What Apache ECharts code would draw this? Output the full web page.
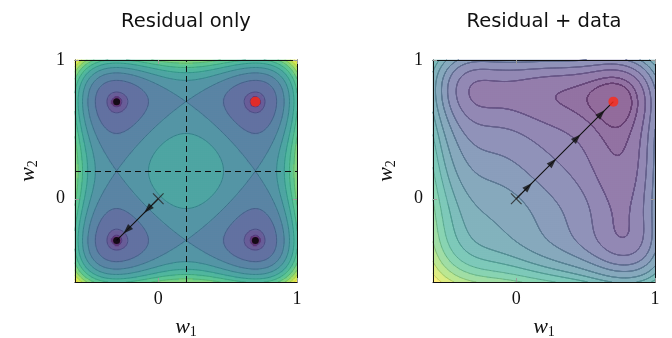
<!DOCTYPE html>
<html><head><meta charset="utf-8">
<script src="https://cdn.jsdelivr.net/npm/echarts@6.0.0/dist/echarts.min.js"></script>
<style>html,body{margin:0;padding:0;background:#fff}#c{width:672px;height:338px}</style>
</head><body><div id="c"></div>
<script>
// ---------------- data ----------------
const titles = ['Residual only', 'Residual + data'];
const axisRange = [-0.6, 1];
const tickValues = [0, 1];
const residualRoots = [-0.3, 0.7];          // each weight's residual roots -> minima
const guideLines = [0.2];                   // dashed guides (left panel)
const minimaLeft = [[-0.3, 0.7], [-0.3, -0.3], [0.7, -0.3]];
const targetMin = [[0.7, 0.7]];
const startPoint = [[0, 0]];
const pathLeft = [[0, 0], [-0.15, -0.15], [-0.3, -0.3]];
const pathRight = [[0, 0], [0.175, 0.175], [0.35, 0.35], [0.525, 0.525], [0.7, 0.7]];
// right panel: residual shape (interior flattening, outer scale low/high side) and data term
const interiorFlattenRight = [0.41, 1.5];
const outerScaleRight = [1.0, 0.8];
const dataWeight = 0.065, dataCoupling = 1.07;
const levelsLeft = [0.0013, 0.0055, 0.03125, 0.0625, 0.09375, 0.126, 0.15625, 0.1875, 0.21875, 0.25, 0.28125];
const levelsRight = [0.019, 0.036, 0.067, 0.10, 0.14, 0.18, 0.23, 0.28, 0.33, 0.39, 0.45, 0.52, 0.60, 0.69];

// ---------------- fields ----------------
function resid(w) { return (w - residualRoots[0]) * (w - residualRoots[1]); }
function fLeft(w1, w2) { const a = resid(w1), b = resid(w2); return a * a + b * b; }
function hRight(w) {
  const s = resid(w);
  if (s >= 0) return (w > residualRoots[1] ? outerScaleRight[1] : outerScaleRight[0]) * s * s;
  const x = Math.min(1, -s / 0.25);
  return s * s * (1 - (1 - interiorFlattenRight[0]) * Math.pow(x, interiorFlattenRight[1]));
}
function fRight(w1, w2) {
  const d = (targetMin[0][0] - w1) + dataCoupling * (targetMin[0][1] - w2);
  return hRight(w1) + hRight(w2) + dataWeight * d * d;
}

// ---------------- colours ----------------
const viridis = ['#440154','#482878','#3e4989','#31688e','#26828e','#1f9e89','#35b779','#6ece58','#b5de2b','#fde725'];
function hex2rgb(h){return [parseInt(h.slice(1,3),16),parseInt(h.slice(3,5),16),parseInt(h.slice(5,7),16)];}
function cmap(t){
  t=Math.max(0,Math.min(1,t)); const p=t*(viridis.length-1); const i=Math.min(viridis.length-2,Math.floor(p)); const f=p-i;
  const a=hex2rgb(viridis[i]), b=hex2rgb(viridis[i+1]);
  return [0,1,2].map(k=>a[k]+(b[k]-a[k])*f);
}
function blend(t, alpha, dark){
  const c=cmap(t); dark = dark||1;
  const r=c.map(v=>Math.round((v*alpha+255*(1-alpha))*dark));
  return 'rgb('+r.join(',')+')';
}
function tLeft(k){ return k<=0 ? 0 : 0.07 + k*0.085; }
function tRight(k){ return Math.pow(Math.max(0,k)/levelsRight.length, 1.25); }

// ---------------- grids ----------------
const N = 111, M = 161;
const span = axisRange[1]-axisRange[0];
function bandOf(v, levels){ let k=0; while(k<levels.length && v>=levels[k]) k++; return k; }
function heatData(fn, levels){
  const out=[];
  for(let j=0;j<N;j++){ const y=axisRange[0]+(j+0.5)*span/N;
    for(let i=0;i<N;i++){ const x=axisRange[0]+(i+0.5)*span/N; out.push([i,j,bandOf(fn(x,y),levels)]); } }
  return out;
}
function contourSegs(fn, levels){
  const xs=[], F=[];
  for(let i=0;i<M;i++) xs.push(axisRange[0]+i*span/(M-1));
  for(let j=0;j<M;j++){ const row=[]; for(let i=0;i<M;i++) row.push(fn(xs[i],xs[j])); F.push(row); }
  const segs=[];
  levels.forEach((L,li)=>{
    for(let j=0;j<M-1;j++) for(let i=0;i<M-1;i++){
      const v0=F[j][i], v1=F[j][i+1], v2=F[j+1][i+1], v3=F[j+1][i];
      const idx=(v0>L?1:0)|(v1>L?2:0)|(v2>L?4:0)|(v3>L?8:0);
      if(idx===0||idx===15) continue;
      const x0=xs[i], x1=xs[i+1], y0=xs[j], y1=xs[j+1];
      const e=[
        ()=>[x0+(L-v0)/(v1-v0)*(x1-x0), y0],
        ()=>[x1, y0+(L-v1)/(v2-v1)*(y1-y0)],
        ()=>[x0+(L-v3)/(v2-v3)*(x1-x0), y1],
        ()=>[x0, y0+(L-v0)/(v3-v0)*(y1-y0)]
      ];
      const center=(v0+v1+v2+v3)/4;
      const table={1:[[3,0]],2:[[0,1]],3:[[3,1]],4:[[1,2]],6:[[0,2]],7:[[3,2]],8:[[2,3]],9:[[0,2]],11:[[1,2]],12:[[1,3]],13:[[0,1]],14:[[0,3]],
        5: center>L?[[3,2],[0,1]]:[[3,0],[1,2]], 10: center>L?[[0,3],[1,2]]:[[0,1],[2,3]]};
      table[idx].forEach(pr=>{ const a=e[pr[0]](), b=e[pr[1]](); segs.push([a[0],a[1],b[0],b[1],li]); });
    }
  });
  return segs;
}

// ---------------- option ----------------
const grids=[{left:75,top:60,width:222,height:222,outerBoundsMode:'none',containLabel:false},
             {left:433,top:60,width:222,height:222,outerBoundsMode:'none',containLabel:false}];
const numFont='Liberation Serif';
const cats=[]; for(let i=0;i<N;i++) cats.push(String(i));
const xAxes=[], yAxes=[], series=[], visualMaps=[];
const nameRich={i:{fontFamily:numFont,fontStyle:'italic',fontSize:22,color:'#111'},s:{fontFamily:numFont,fontSize:14,color:'#111',padding:[10,0,0,0]}};
function valueAxis(p, pos, withLabels, name){
  const isX = pos==='bottom'||pos==='top';
  return {gridIndex:p,type:'value',min:axisRange[0],max:axisRange[1],position:pos,z:5,
    axisLine:{show:true,onZero:false,lineStyle:{color:'#111',width:1}},
    axisTick:{show:true,inside:true,length:4,customValues:tickValues,lineStyle:{color:'#9a9a9a',width:1}},
    axisLabel:{show:withLabels,customValues:tickValues,fontFamily:numFont,fontSize:18,color:'#111',margin:isX?8:10},
    splitLine:{show:false},
    name: withLabels?name:'', nameLocation:'middle', nameGap: isX?33:35, nameRotate: isX?0:90,
    nameTextStyle:{rich:nameRich}};
}
const panels=[
  {fn:fLeft, levels:levelsLeft, tf:tLeft, alpha:0.8, lineAlpha:0.9, lineDark:0.9, path:pathLeft},
  {fn:fRight, levels:levelsRight, tf:tRight, alpha:0.58, lineAlpha:0.72, lineDark:0.85, path:pathRight}
];
panels.forEach((P,p)=>{
  xAxes.push(valueAxis(p,'bottom',true,'{i|w}{s|1}'), valueAxis(p,'top',false,''),
    {gridIndex:p,type:'category',data:cats,show:false});
  yAxes.push(valueAxis(p,'left',true,'{i|w}{s|2}'), valueAxis(p,'right',false,''),
    {gridIndex:p,type:'category',data:cats,show:false});
  const nb=P.levels.length+1;
  const fillColors=[]; for(let k=0;k<nb;k++) fillColors.push(blend(P.tf(k),P.alpha));
  const lineColors=P.levels.map((L,k)=>blend(P.tf(k+0.5),P.lineAlpha,P.lineDark));
  const hsIdx=series.length;
  series.push({type:'heatmap',xAxisIndex:p*3+2,yAxisIndex:p*3+2,data:heatData(P.fn,P.levels),progressive:0,silent:true,z:1});
  visualMaps.push({type:'piecewise',show:false,seriesIndex:hsIdx,dimension:2,pieces:fillColors.map((c,k)=>({value:k,color:c}))});
  series.push({type:'custom',xAxisIndex:p*3,yAxisIndex:p*3,data:contourSegs(P.fn,P.levels),silent:true,z:2,clip:true,
    renderItem:(params,api)=>{const a=api.coord([api.value(0),api.value(1)]), b=api.coord([api.value(2),api.value(3)]);
      return {type:'line',shape:{x1:a[0],y1:a[1],x2:b[0],y2:b[1]},style:{stroke:lineColors[api.value(4)],lineWidth:1}};}});
  const pathSeries={type:'line',xAxisIndex:p*3,yAxisIndex:p*3,data:P.path,symbol:'none',z:6,silent:true,
    lineStyle:{color:'#111',width:1.1}};
  if(p===0){
    pathSeries.markLine={silent:true,symbol:'none',label:{show:false},lineStyle:{color:'#111',width:1,type:[6,4]},
      data:[{xAxis:guideLines[0]},{yAxis:guideLines[0]}]};
  }
  series.push(pathSeries);
  const arrows=[];
  for(let k=0;k<P.path.length-1;k++){
    const a=P.path[k], b=P.path[k+1];
    const ang=Math.atan2(b[1]-a[1],b[0]-a[0])*180/Math.PI;
    arrows.push({value:[(a[0]+b[0])/2,(a[1]+b[1])/2],symbolRotate:ang-90});
  }
  series.push({type:'scatter',xAxisIndex:p*3,yAxisIndex:p*3,data:arrows,symbol:'triangle',symbolSize:[7,10],z:7,silent:true,itemStyle:{color:'#111'}});
  [45,-45].forEach(r=>series.push({type:'scatter',xAxisIndex:p*3,yAxisIndex:p*3,data:startPoint,symbol:'rect',symbolSize:[1.1,15],symbolRotate:r,z:7,silent:true,itemStyle:{color:'#222'}}));
  if(p===0) series.push({type:'scatter',xAxisIndex:0,yAxisIndex:0,data:minimaLeft,symbol:'circle',symbolSize:7,z:8,silent:true,itemStyle:{color:'#000'}});
  series.push({type:'scatter',xAxisIndex:p*3,yAxisIndex:p*3,data:targetMin,symbol:'circle',symbolSize:10,z:8,silent:true,itemStyle:{color:'#ff2b17'}});
});

const chart=echarts.init(document.getElementById('c'),null,{renderer:'canvas',width:672,height:338});
chart.setOption({
  animation:false,
  backgroundColor:'#fff',
  grid:grids,
  xAxis:xAxes, yAxis:yAxes,
  visualMap:visualMaps,
  graphic:titles.map((t,p)=>({type:'text',x:grids[p].left+grids[p].width/2,y:22,silent:true,
    style:{text:t,fontFamily:'DejaVu Sans',fontSize:19.5,fill:'#111',align:'center',verticalAlign:'middle'}})),
  series:series
});
</script></body></html>
